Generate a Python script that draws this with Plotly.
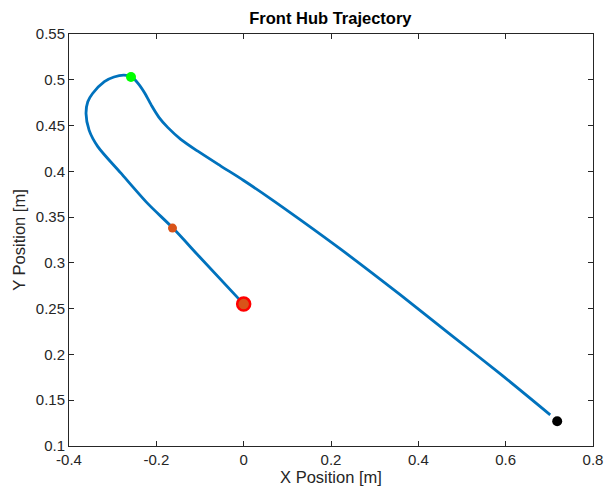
import plotly.graph_objects as go

# Trajectory
traj_x = [0.0, -0.098, -0.162, -0.220, -0.281, -0.334, -0.354, -0.361, -0.357, -0.346,
          -0.319, -0.297, -0.274, -0.256, -0.240, -0.226, -0.210, -0.194, -0.174, -0.144,
          -0.105, -0.053, 0.000, 0.062, 0.130, 0.222, 0.359, 0.473, 0.587, 0.702]
traj_y = [0.255, 0.305, 0.338, 0.365, 0.398, 0.427, 0.445, 0.463, 0.476, 0.485,
          0.498, 0.503, 0.505, 0.503, 0.495, 0.485, 0.471, 0.459, 0.448, 0.435,
          0.422, 0.406, 0.390, 0.370, 0.347, 0.315, 0.265, 0.222, 0.179, 0.134]

start_pt = (0.0, 0.255)
mid_pt = (-0.163, 0.338)
top_pt = (-0.258, 0.503)
end_pt = (0.718, 0.127)

x_ticks = [-0.4, -0.2, 0, 0.2, 0.4, 0.6, 0.8]
x_ticktext = ["-0.4", "-0.2", "0", "0.2", "0.4", "0.6", "0.8"]
y_ticks = [0.1, 0.15, 0.2, 0.25, 0.3, 0.35, 0.4, 0.45, 0.5, 0.55]
y_ticktext = ["0.1", "0.15", "0.2", "0.25", "0.3", "0.35", "0.4", "0.45", "0.5", "0.55"]

FONT = "Liberation Sans, Arial, sans-serif"

fig = go.Figure()
fig.add_trace(go.Scatter(x=traj_x, y=traj_y, mode="lines",
                         line=dict(color="#0072BD", width=2.8, shape="spline", smoothing=0.8),
                         showlegend=False, hoverinfo="skip"))
fig.add_trace(go.Scatter(x=[start_pt[0]], y=[start_pt[1]], mode="markers",
                         marker=dict(color="#D95319", size=13, line=dict(color="#FF0000", width=2.5)),
                         showlegend=False))
fig.add_trace(go.Scatter(x=[mid_pt[0]], y=[mid_pt[1]], mode="markers",
                         marker=dict(color="#D95319", size=9),
                         showlegend=False))
fig.add_trace(go.Scatter(x=[top_pt[0]], y=[top_pt[1]], mode="markers",
                         marker=dict(color="#00FF00", size=10),
                         showlegend=False))
fig.add_trace(go.Scatter(x=[end_pt[0]], y=[end_pt[1]], mode="markers",
                         marker=dict(color="#000000", size=10),
                         showlegend=False))

axis_common = dict(showline=True, linecolor="#262626", linewidth=1, mirror="ticks",
                   ticks="inside", ticklen=5, tickcolor="#262626", showgrid=False,
                   zeroline=False, automargin=False,
                   tickfont=dict(size=15, color="#262626", family=FONT))

fig.update_layout(
    width=604, height=495, autosize=False,
    margin=dict(l=69, r=11, t=34, b=49),
    paper_bgcolor="white", plot_bgcolor="white",
    title=dict(text="<b>Front Hub Trajectory</b>", x=0.547, xanchor="center", y=0.963, yanchor="middle",
               font=dict(size=16.5, color="#000000", family=FONT)),
    xaxis=dict(range=[-0.4, 0.8], tickvals=x_ticks, ticktext=x_ticktext,
               title=dict(text="X Position [m]", standoff=2,
                          font=dict(size=16.5, color="#262626", family=FONT)),
               **axis_common),
    yaxis=dict(range=[0.1, 0.55], tickvals=y_ticks, ticktext=y_ticktext,
               title=dict(text="Y Position [m]", standoff=6,
                          font=dict(size=16.5, color="#262626", family=FONT)),
               **axis_common),
)

fig.write_html("out.html")
